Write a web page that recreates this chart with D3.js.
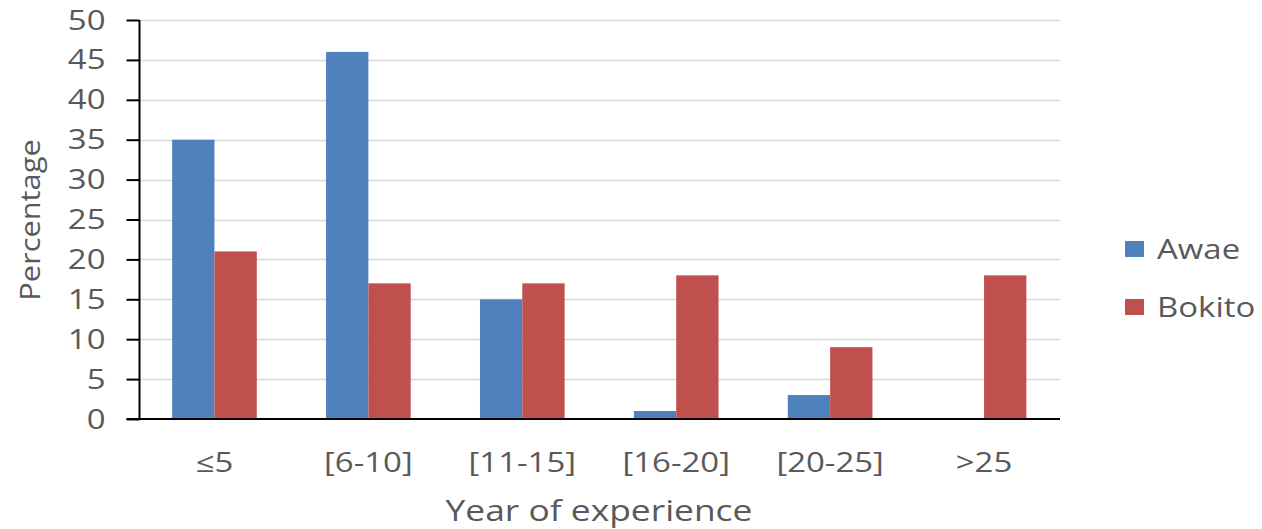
<!DOCTYPE html>
<html>
<head>
<meta charset="utf-8">
<script src="https://cdn.jsdelivr.net/npm/d3@7"></script>
<style>
  body { margin: 0; background: #fff; }
  text { font-family: "Open Sans", sans-serif; fill: #595959; }
</style>
</head>
<body>
<svg class="main-canvas" width="1262" height="529"></svg>
<script>
"use strict";

const categories = ['≤5', '[6-10]', '[11-15]', '[16-20]', '[20-25]', '>25'];
const seriesNames = ['Awae', 'Bokito'];
const awae = [35, 46, 15, 1, 3, 0];
const bokito = [21, 17, 17, 18, 9, 18];
const yTicks = [0, 5, 10, 15, 20, 25, 30, 35, 40, 45, 50];
const colors = ['#4F81BD', '#C0504D'];

const values = [awae, bokito];
const stretch = 1.22;  // the source text looks wider than our fonts

let svg = d3.select('.main-canvas');
const margin = { left: 139.5, right: 202, top: 20, bottom: 110 };
const width = 1262 - margin.left - margin.right;
const height = 529 - margin.top - margin.bottom;

let x = d3.scaleBand()
          .domain(categories)
          .range([-2, width + 1])
          .paddingInner(0.45)
          .paddingOuter(0.225);
let xs = d3.scaleBand()
           .domain(seriesNames)
           .range([0, x.bandwidth()]);
let y = d3.scaleLinear()
          .domain([0, 50])
          .range([height, 0]);

let g = svg.append('g')
           .attr('transform', `translate(${margin.left}, ${margin.top})`);

// helper: wide text, scaled around its anchor point
function wideText(parent, tx, ty, str, anchor, rotate, size, sx) {
  return parent.append('text')
               .attr('transform', `translate(${tx}, ${ty})${rotate ? ' rotate(-90)' : ''} scale(${sx || stretch}, 1)`)
               .attr('text-anchor', anchor)
               .style('font-size', (size || 27) + 'px')
               .text(str);
}

// gridlines
g.append('g')
 .selectAll('line')
 .data(yTicks.filter(t => t > 0))
 .enter()
 .append('line')
 .attr('x1', 0)
 .attr('x2', width)
 .attr('y1', d => Math.round(y(d)) + 0.5)
 .attr('y2', d => Math.round(y(d)) + 0.5)
 .attr('stroke', '#d9d9d9')
 .attr('stroke-width', 1.5);

// bars
g.append('g')
 .selectAll('g')
 .data(seriesNames)
 .enter()
 .append('g')
 .attr('fill', (d, i) => colors[i])
 .selectAll('rect')
 .data((d, i) => values[i].map((v, j) => ({ s: d, c: categories[j], v: v })))
 .enter()
 .append('rect')
 .attr('x', d => x(d.c) + xs(d.s))
 .attr('width', xs.bandwidth())
 .attr('y', d => y(d.v))
 .attr('height', d => y(0) - y(d.v));

// y axis
let yAxis = g.append('g')
             .call(d3.axisLeft(y).tickValues(yTicks).tickSize(13).tickFormat(''));
yAxis.select('.domain').attr('stroke', '#000').attr('stroke-width', 2).attr('d', `M0,0V${height}`);
yAxis.selectAll('.tick line').attr('stroke', '#000').attr('stroke-width', 2);
for (let t of yTicks) {
  wideText(g, -34, y(t) + 9.5, String(t), 'end');
}

// x axis
g.append('line')
 .attr('x1', -13)
 .attr('x2', width)
 .attr('y1', height)
 .attr('y2', height)
 .attr('stroke', '#000')
 .attr('stroke-width', 2);
for (let c of categories) {
  wideText(g, x(c) + x.bandwidth() / 2, height + 53, c, 'middle');
}

// axis titles
wideText(svg, 599, 521, 'Year of experience', 'middle', false, 29);
wideText(svg, 40, 220, 'Percentage', 'middle', true, 28, 1.1);

// legend
let legend = svg.append('g')
                .selectAll('g')
                .data(seriesNames)
                .enter()
                .append('g')
                .attr('transform', (d, i) => `translate(1125, ${241 + i * 58})`);
legend.append('rect')
      .attr('width', 19)
      .attr('height', 16)
      .attr('fill', (d, i) => colors[i]);
legend.each(function (d) {
  wideText(d3.select(this), 32, 18, d, 'start');
});
</script>
</body>
</html>
